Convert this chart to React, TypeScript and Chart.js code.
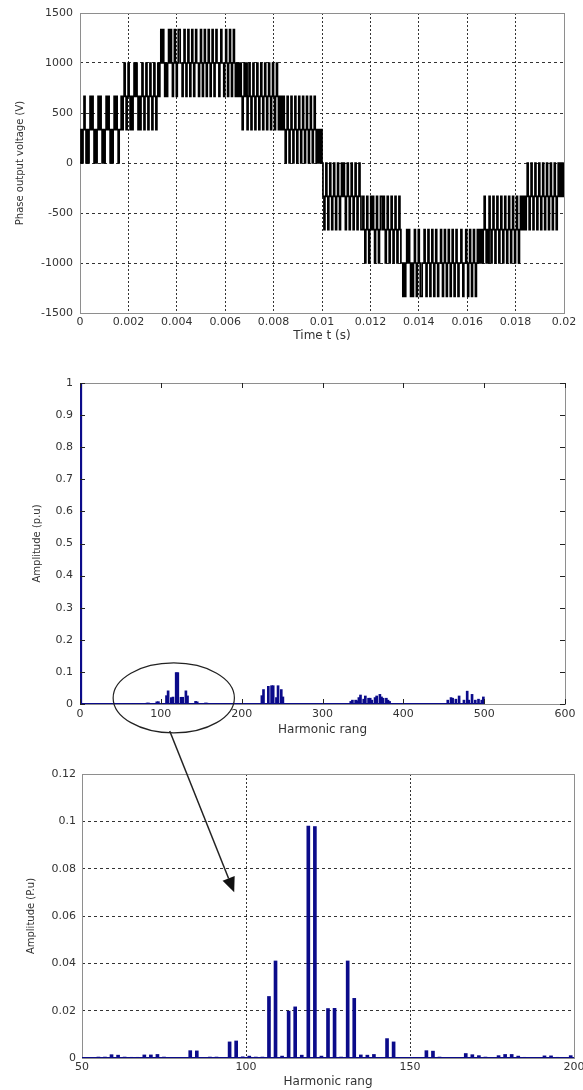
import React, { useEffect, useRef } from 'react';
import { Chart, registerables } from 'chart.js';

Chart.register(...registerables);

// ---------------- Panel 1 : phase output voltage ----------------
const timeTicks = [0, 0.002, 0.004, 0.006, 0.008, 0.01, 0.012, 0.014, 0.016, 0.018, 0.02];
const timeTickLabels = ['0', '0.002', '0.004', '0.006', '0.008', '0.01', '0.012', '0.014', '0.016', '0.018', '0.02'];
const voltageTicks = [-1500, -1000, -500, 0, 500, 1000, 1500];
const voltageTickLabels = ['-1500', '-1000', '-500', '0', '500', '1000', '1500'];
// voltage levels indexed by the digits of the patterns below
const voltageLevels = [-1333.3, -1000, -666.7, -333.3, 0, 333.3, 666.7, 1000, 1333.3];
const waveStarts = [0, 0.00166, 0.0033, 0.0065, 0.0082, 0.01, 0.01165, 0.0133, 0.0165, 0.0182];
const waveEnds = [0.00166, 0.0033, 0.0065, 0.0082, 0.01, 0.01165, 0.0133, 0.0165, 0.0182, 0.02];
const wavePatterns = [
  '4545654545' + '6565454565' + '6545456565' + '4545656545',
  '5656765676' + '5656767656' + '5676567656' + '7656765676',
  '7878767678' + '7876787678' + '8776787678' + '7678767877' + '6787678767' + '8767876787' + '7678776787' + '6787678767',
  '6767656767' + '5676567656' + '7656765676' + '5676567656' + '76',
  '5656565456' + '5456545654' + '5654565456' + '5456545654' + '54545',
  '4323432343' + '2343234323' + '4343234323' + '4323432343' + '2',
  '2321232123' + '2321232123' + '3232123212' + '3212321232' + '1',
  '1010121210' + '1012101210' + '0112101210' + '1210121011' + '2101210121' + '0121012101' + '1210112101' + '2101210121',
  '2121232121' + '3212321232' + '1232123212' + '3212321232' + '12',
  '3232323432' + '3432343234' + '3234323432' + '3432343234' + '34343',
];
const waveEndLevel = 4;

// ---------------- Panels 2 & 3 : harmonic spectrum ----------------
const harmonicOrders = [
  1,
  55, 57, 59, 61, 63, 65, 67, 69, 71, 73, 75, 83, 85, 89, 91, 95, 97, 99, 101, 103, 105,
  107, 109, 111, 113, 115, 117, 119, 121, 123, 125, 127, 129, 131, 133, 135, 137, 139,
  143, 145, 155, 157, 159, 167, 169, 171, 173, 177, 179, 181, 183, 185, 191, 193, 195, 199,
  225, 227, 233, 237, 239, 243, 245, 249, 251,
  335, 337, 341, 343, 345, 347, 351, 353, 357, 359, 361, 365, 367, 371, 373, 375, 379, 381, 383,
  455, 459, 461, 465, 469, 475, 479, 481, 485, 489, 493, 497, 499,
];
const harmonicAmplitudes = [
  1.0,
  0.0004, 0.0004, 0.0014, 0.0012, 0.0004, 0.0003, 0.0003, 0.0013, 0.0013, 0.0015, 0.0004, 0.0031, 0.003, 0.0004, 0.0004, 0.0068, 0.0072, 0.0005, 0.0008, 0.0004, 0.0004,
  0.026, 0.041, 0.0008, 0.0198, 0.0216, 0.0012, 0.098, 0.0978, 0.0008, 0.0209, 0.021, 0.0004, 0.041, 0.0252, 0.0013, 0.0012, 0.0015,
  0.0082, 0.0068, 0.0031, 0.0029, 0.0004, 0.0019, 0.0014, 0.001, 0.0004, 0.001, 0.0015, 0.0015, 0.0008, 0.0003, 0.0009, 0.0009, 0.0003, 0.001,
  0.026, 0.045, 0.055, 0.057, 0.057, 0.02, 0.057, 0.045, 0.022,
  0.008, 0.012, 0.012, 0.01, 0.02, 0.028, 0.015, 0.025, 0.018, 0.018, 0.012, 0.02, 0.025, 0.03, 0.022, 0.018, 0.018, 0.012, 0.008,
  0.012, 0.02, 0.018, 0.015, 0.025, 0.012, 0.04, 0.012, 0.03, 0.012, 0.015, 0.012, 0.022,
];
const spectrumTicks = [0, 100, 200, 300, 400, 500, 600];
const spectrumTickLabels = ['0', '100', '200', '300', '400', '500', '600'];
const amplitudeTicks = [0, 0.1, 0.2, 0.3, 0.4, 0.5, 0.6, 0.7, 0.8, 0.9, 1];
const amplitudeTickLabels = ['0', '0.1', '0.2', '0.3', '0.4', '0.5', '0.6', '0.7', '0.8', '0.9', '1'];
const spectrumBaseline = [0, 500];
const zoomTicks = [50, 100, 150, 200];
const zoomTickLabels = ['50', '100', '150', '200'];
const zoomAmpTicks = [0, 0.02, 0.04, 0.06, 0.08, 0.1, 0.12];
const zoomAmpTickLabels = ['0', '0.02', '0.04', '0.06', '0.08', '0.1', '0.12'];
const zoomBaseline = [50, 200];

// annotation anchors in data units
const ellipseCenter = [116, 0.019];
const ellipseRadius = [75, 0.109];
const arrowFrom = [111, -0.084]; // panel 2 data coords
const arrowTo = [96.4, 0.07]; // panel 3 data coords

// ---------------- styling ----------------
const W = 583;
const TEXT = '#333';
const BLUE = '#0b0b8a';
const tickFont = { family: 'DejaVu Sans', size: 11 };
const xTitleFont = { family: 'DejaVu Sans', size: 12 };
const yTitleFont = { family: 'DejaVu Sans', size: 10 };

const framePlugin = {
  id: 'frame',
  beforeDatasetsDraw(chart: any) {
    const { ctx, chartArea: a } = chart;
    ctx.save();
    ctx.strokeStyle = '#8e8e8e';
    ctx.lineWidth = 1;
    ctx.setLineDash([]);
    ctx.strokeRect(Math.round(a.left) + 0.5, Math.round(a.top) + 0.5, Math.round(a.right - a.left), Math.round(a.bottom - a.top));
    ctx.restore();
  },
};

const inwardTicksPlugin = {
  id: 'inwardTicks',
  afterDatasetsDraw(chart: any, _args: any, opts: any) {
    if (!opts || !opts.length) return;
    const { ctx, chartArea: a, scales } = chart;
    const L = opts.length;
    ctx.save();
    ctx.strokeStyle = opts.color || '#222';
    ctx.lineWidth = 1;
    ctx.beginPath();
    for (const t of scales.x.ticks) {
      const px = Math.round(scales.x.getPixelForValue(t.value)) + 0.5;
      ctx.moveTo(px, a.top); ctx.lineTo(px, a.top + L);
      ctx.moveTo(px, a.bottom); ctx.lineTo(px, a.bottom - L);
    }
    for (const t of scales.y.ticks) {
      const py = Math.round(scales.y.getPixelForValue(t.value)) + 0.5;
      ctx.moveTo(a.left, py); ctx.lineTo(a.left + L, py);
      ctx.moveTo(a.right, py); ctx.lineTo(a.right - L, py);
    }
    ctx.stroke();
    ctx.restore();
  },
};

type Box = { h: number; left: number; right: number; top: number; bottom: number };

function axes(box: Box, o: any) {
  return {
    x: {
      type: 'linear',
      min: o.xMin, max: o.xMax, offset: false,
      afterBuildTicks: (s: any) => { s.ticks = o.xTicks.map((v: number) => ({ value: v })); },
      afterFit: (s: any) => { s.height = box.h - box.bottom; s.paddingLeft = 0; s.paddingRight = 0; },
      ticks: { callback: (_v: any, i: number) => o.xLabels[i], autoSkip: false, maxRotation: 0, minRotation: 0, padding: o.xPad, font: tickFont, color: TEXT },
      grid: { display: o.grid, color: '#333', lineWidth: 1, drawTicks: false, offset: false },
      border: { display: false, dash: o.xDash },
      title: { display: true, text: o.xTitle, font: xTitleFont, color: TEXT, padding: { top: 0, bottom: o.xTitlePad } },
    },
    y: {
      type: 'linear',
      min: o.yMin, max: o.yMax,
      afterBuildTicks: (s: any) => { s.ticks = o.yTicks.map((v: number) => ({ value: v })); },
      afterFit: (s: any) => { s.width = box.left; s.paddingTop = 0; s.paddingBottom = 0; },
      ticks: { callback: (_v: any, i: number) => o.yLabels[i], autoSkip: false, padding: o.yPad, font: tickFont, color: TEXT },
      grid: { display: o.grid, color: '#333', lineWidth: 1, drawTicks: false },
      border: { display: false, dash: o.yDash },
      title: { display: true, text: o.yTitle, font: yTitleFont, color: TEXT, padding: { top: o.yTitlePad, bottom: 0 } },
    },
  };
}

function baseOptions(box: Box) {
  return {
    responsive: false,
    animation: false,
    events: [],
    layout: { padding: { left: 0, top: box.top, right: W - box.right, bottom: 0 } },
    plugins: { legend: { display: false }, tooltip: { enabled: false }, title: { display: false } },
  };
}

const box1: Box = { h: 345, left: 80, right: 564, top: 13, bottom: 313 };
const box2: Box = { h: 395, left: 80, right: 565, top: 38, bottom: 359 };
const box3: Box = { h: 350, left: 82, right: 574, top: 34, bottom: 318 };
const TOP2 = 345;
const TOP3 = 740;

function buildWave() {
  const pts: { x: number; y: number }[] = [];
  wavePatterns.forEach((p, s) => {
    const dt = (waveEnds[s] - waveStarts[s]) / p.length;
    for (let i = 0; i < p.length; i++) {
      pts.push({ x: waveStarts[s] + i * dt, y: voltageLevels[Number(p[i])] });
    }
  });
  pts.push({ x: waveEnds[waveEnds.length - 1], y: voltageLevels[waveEndLevel] });
  return pts;
}

const harmonicPoints = harmonicOrders.map((h, i) => ({ x: h, y: harmonicAmplitudes[i] }));

export default function App() {
  const c1 = useRef<HTMLCanvasElement>(null);
  const c2 = useRef<HTMLCanvasElement>(null);
  const c3 = useRef<HTMLCanvasElement>(null);
  const ov = useRef<HTMLCanvasElement>(null);

  useEffect(() => {
    const ch1 = new Chart(c1.current as HTMLCanvasElement, {
      type: 'line',
      data: {
        datasets: [{ data: buildWave(), borderColor: '#000', borderWidth: 1.7, pointRadius: 0, stepped: 'before', fill: false, tension: 0, borderJoinStyle: 'miter', borderCapStyle: 'butt' }],
      },
      options: {
        ...baseOptions(box1),
        scales: axes(box1, {
          xMin: 0, xMax: 0.02, xTicks: timeTicks, xLabels: timeTickLabels, xPad: 3, xDash: [2, 2], xTitle: 'Time t (s)', xTitlePad: 1.8,
          yMin: -1500, yMax: 1500, yTicks: voltageTicks, yLabels: voltageTickLabels, yPad: 7, yDash: [3, 3], yTitle: 'Phase output voltage (V)', yTitlePad: 14.5,
          grid: true,
        }),
      } as any,
      plugins: [framePlugin],
    } as any);

    const ch2 = new Chart(c2.current as HTMLCanvasElement, {
      type: 'bar',
      data: {
        datasets: [
          { type: 'bar', data: harmonicPoints, backgroundColor: BLUE, borderWidth: 0, barThickness: 2 },
          { type: 'line', data: spectrumBaseline.map((x) => ({ x, y: 0 })), borderColor: BLUE, borderWidth: 2, pointRadius: 0 },
        ],
      },
      options: {
        ...baseOptions(box2),
        plugins: { legend: { display: false }, tooltip: { enabled: false }, inwardTicks: { length: 5, color: '#222' } },
        scales: axes(box2, {
          xMin: 0, xMax: 600, xTicks: spectrumTicks, xLabels: spectrumTickLabels, xPad: 4, xDash: [], xTitle: 'Harmonic rang', xTitlePad: 2.8,
          yMin: 0, yMax: 1, yTicks: amplitudeTicks, yLabels: amplitudeTickLabels, yPad: 7, yDash: [], yTitle: 'Amplitude (p.u)', yTitlePad: 31,
          grid: false,
        }),
      } as any,
      plugins: [framePlugin, inwardTicksPlugin],
    } as any);

    const ch3 = new Chart(c3.current as HTMLCanvasElement, {
      type: 'bar',
      data: {
        datasets: [
          { type: 'bar', data: harmonicPoints, backgroundColor: BLUE, borderWidth: 0, barThickness: 3 },
          { type: 'line', data: zoomBaseline.map((x) => ({ x, y: 0 })), borderColor: BLUE, borderWidth: 2, pointRadius: 0 },
        ],
      },
      options: {
        ...baseOptions(box3),
        scales: axes(box3, {
          xMin: 50, xMax: 200, xTicks: zoomTicks, xLabels: zoomTickLabels, xPad: 2.5, xDash: [2, 2], xTitle: 'Harmonic rang', xTitlePad: 0.8,
          yMin: 0, yMax: 0.12, yTicks: zoomAmpTicks, yLabels: zoomAmpTickLabels, yPad: 6, yDash: [3, 3], yTitle: 'Amplitude (P.u)', yTitlePad: 25.6,
          grid: true,
        }),
      } as any,
      plugins: [framePlugin],
    } as any);

    // annotation: ellipse on panel 2 and arrow down to panel 3
    const octx = (ov.current as HTMLCanvasElement).getContext('2d') as CanvasRenderingContext2D;
    octx.clearRect(0, 0, W, 1090);
    const x2 = ch2.scales.x, y2 = ch2.scales.y, x3 = ch3.scales.x, y3 = ch3.scales.y;
    const cx = x2.getPixelForValue(ellipseCenter[0]);
    const cy = TOP2 + y2.getPixelForValue(ellipseCenter[1]);
    const rx = x2.getPixelForValue(ellipseCenter[0] + ellipseRadius[0]) - cx;
    const ry = TOP2 + y2.getPixelForValue(ellipseCenter[1] - ellipseRadius[1]) - cy;
    octx.save();
    octx.strokeStyle = '#222';
    octx.lineWidth = 1.2;
    octx.beginPath();
    octx.ellipse(cx, cy, rx, ry, 0, 0, Math.PI * 2);
    octx.stroke();
    const sx = x2.getPixelForValue(arrowFrom[0]);
    const sy = TOP2 + y2.getPixelForValue(arrowFrom[1]);
    const tx = x3.getPixelForValue(arrowTo[0]);
    const ty = TOP3 + y3.getPixelForValue(arrowTo[1]);
    const ang = Math.atan2(ty - sy, tx - sx);
    const headLen = 15, headHalf = 6.5;
    const bx = tx - headLen * Math.cos(ang), by = ty - headLen * Math.sin(ang);
    octx.lineWidth = 1.5;
    octx.beginPath();
    octx.moveTo(sx, sy);
    octx.lineTo(bx, by);
    octx.stroke();
    octx.fillStyle = '#111';
    octx.beginPath();
    octx.moveTo(tx, ty);
    octx.lineTo(bx + headHalf * Math.sin(ang), by - headHalf * Math.cos(ang));
    octx.lineTo(bx - headHalf * Math.sin(ang), by + headHalf * Math.cos(ang));
    octx.closePath();
    octx.fill();
    octx.restore();

    return () => {
      ch1.destroy();
      ch2.destroy();
      ch3.destroy();
    };
  }, []);

  return (
    <div style={{ position: 'absolute', left: 0, top: 0, width: W, height: 1090, background: '#fff', overflow: 'hidden' }}>
      <canvas ref={c1} width={W} height={345} style={{ position: 'absolute', left: 0, top: 0 }} />
      <canvas ref={c2} width={W} height={395} style={{ position: 'absolute', left: 0, top: TOP2 }} />
      <canvas ref={c3} width={W} height={350} style={{ position: 'absolute', left: 0, top: TOP3 }} />
      <canvas ref={ov} width={W} height={1090} style={{ position: 'absolute', left: 0, top: 0, pointerEvents: 'none' }} />
    </div>
  );
}
